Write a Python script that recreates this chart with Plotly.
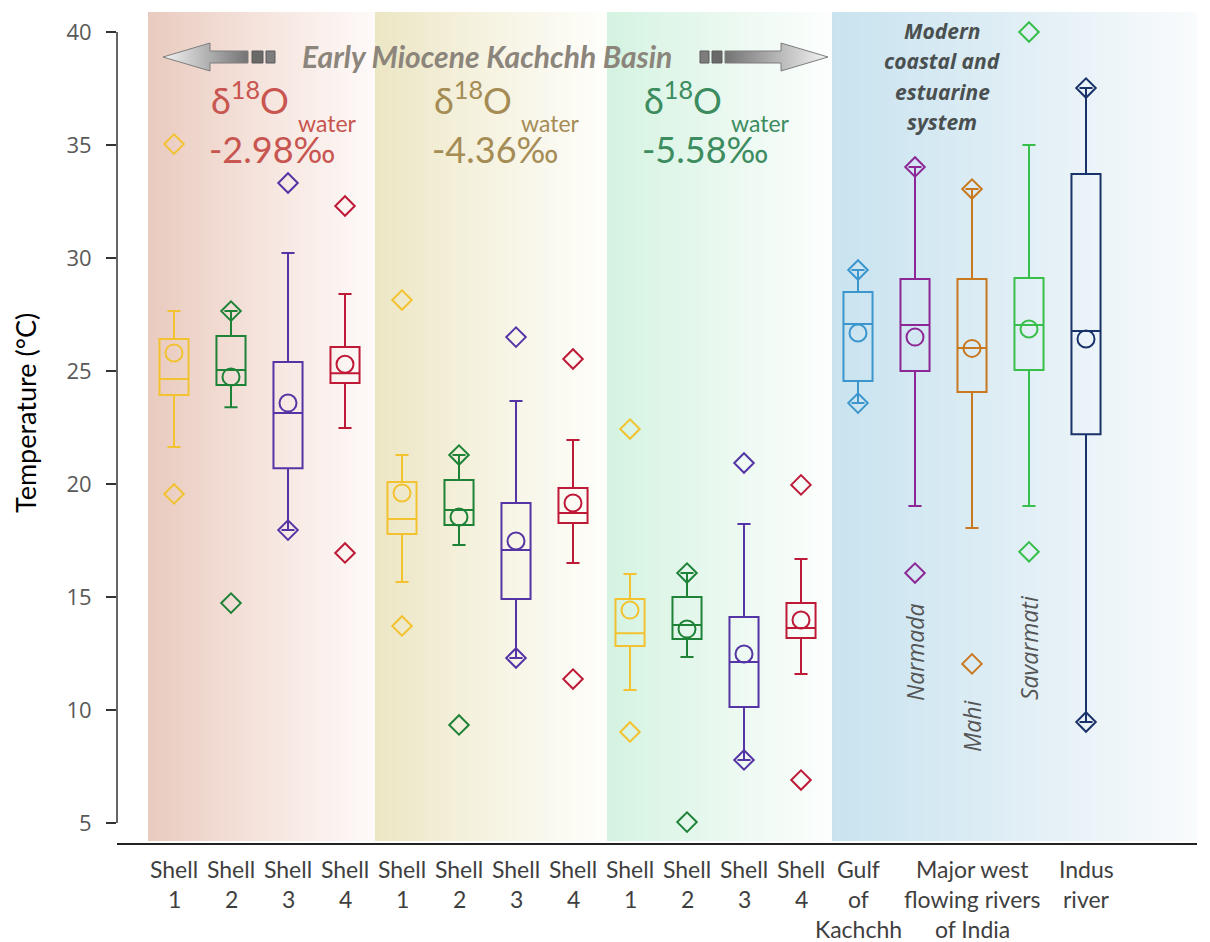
import plotly.graph_objects as go

# ---------------- data ----------------
categories = ["Shell 1", "Shell 2", "Shell 3", "Shell 4",
              "Shell 1", "Shell 2", "Shell 3", "Shell 4",
              "Shell 1", "Shell 2", "Shell 3", "Shell 4",
              "Gulf of Kachchh", "Narmada", "Mahi", "Savarmati", "Indus river"]
tick_labels = ["Shell<br>1", "Shell<br>2", "Shell<br>3", "Shell<br>4"] * 3 + \
              ["Gulf<br>of<br>Kachchh", "", "Major west<br>flowing rivers<br>of India", "", "Indus<br>river"]
river_names = ["", "", "", "", "", "", "", "", "", "", "", "", "", "Narmada", "Mahi", "Savarmati", ""]

q1 = [23.94, 24.38, 20.70, 24.47,
      17.79, 18.19, 14.91, 18.27,
      12.83, 13.14, 10.13, 13.19,
      24.56, 25.00, 24.07, 25.04, 22.20]
median = [24.65, 25.04, 23.14, 24.90,
          18.45, 18.85, 17.08, 18.72,
          13.40, 13.76, 12.12, 13.63,
          27.08, 27.04, 26.02, 27.04, 26.77]
q3 = [26.42, 26.55, 25.40, 26.06,
      20.09, 20.18, 19.16, 19.82,
      14.91, 15.00, 14.11, 14.73,
      28.50, 29.07, 29.07, 29.12, 33.72]
whisker_low = [21.64, 23.40, 17.96, 22.48,
               15.66, 17.30, 12.30, 16.50,
               10.88, 12.35, 7.79, 11.59,
               23.58, 19.03, 18.05, 19.03, 9.47]
whisker_high = [27.65, 27.65, 30.22, 28.41,
                21.28, 21.28, 23.67, 21.95,
                16.02, 16.06, 18.23, 16.68,
                29.47, 34.03, 33.05, 35.00, 37.52]
mean = [25.80, 24.74, 23.58, 25.30,
        19.60, 18.54, 17.48, 19.16,
        14.42, 13.58, 12.48, 13.98,
        26.68, 26.50, 26.00, 26.86, 26.42]
extreme_high = [35.04, 27.65, 33.32, 32.30,
                28.14, 21.28, 26.50, 25.53,
                22.43, 16.06, 20.93, 19.96,
                29.47, 34.03, 33.05, 40.00, 37.52]
extreme_low = [19.56, 14.73, 17.96, 16.95,
               13.72, 9.34, 12.30, 11.37,
               9.03, 5.04, 7.79, 6.90,
               23.58, 16.06, 12.04, 17.00, 9.47]
colors = ["#F2C230", "#1E8237", "#5535A5", "#BE1937"] * 3 + \
         ["#3C96CD", "#8C2896", "#C8781E", "#37BE4B", "#193269"]

d18o_labels = ["-2.98‰", "-4.36‰", "-5.58‰"]
d18o_colors = ["#C8554F", "#A58C55", "#3C8C5F"]

positions = list(range(len(categories)))

# ------------- layout geometry (pixel helpers for decorations) -------------
OFF = 8                      # page body margin
PL, PR, PT, PB = 117, 1197, 12, 843   # plot area in reference pixels


def X(px):
    return (px - 174) / 57.0


def Y(py):
    return 40 - (py - 32) / 22.6


def PX(px):
    return (px - PL) / (PR - PL)


def PY(py):
    return (PB - py) / (PB - PT)


fig = go.Figure()

# background gradient bands (drawn as a 1-row image, one column per pixel)
bands = [
    (148, 375, [(0, (233, 202, 190)), (0.5, (245, 228, 221)), (1, (254, 250, 249))]),
    (375, 607, [(0, (236, 230, 196)), (0.5, (246, 243, 226)), (1, (254, 254, 251))]),
    (607, 832, [(0, (212, 243, 225)), (0.5, (233, 248, 239)), (1, (252, 254, 253))]),
    (832, 1197, [(0, (200, 227, 239)), (0.5, (224, 238, 245)), (1, (249, 251, 252))]),
]


def band_color(px):
    for x0, x1, stops in bands:
        if x0 <= px < x1:
            t = (px - x0) / (x1 - x0)
            for (ta, ca), (tb, cb) in zip(stops[:-1], stops[1:]):
                if ta <= t <= tb:
                    f = (t - ta) / (tb - ta)
                    return [round(ca[k] + (cb[k] - ca[k]) * f) for k in range(3)]
    return [255, 255, 255]


row = [band_color(px + 0.5) for px in range(PL, PR)]
yb, yt = Y(841), Y(PT)
fig.add_trace(go.Image(
    z=[row], x0=X(PL + 0.5), dx=1 / 57.0, y0=(yb + yt) / 2, dy=(yt - yb),
    hoverinfo="skip"))

# arrows
def arrow_poly(pts):
    xs = [X(p[0]) for p in pts] + [X(pts[0][0])]
    ys = [Y(p[1]) for p in pts] + [Y(pts[0][1])]
    return xs, ys


left_arrow = [(163, 57), (210, 43), (210, 51), (248, 51), (248, 63), (210, 63), (210, 71)]
right_arrow = [(828, 57), (781, 43), (781, 51), (725, 51), (725, 63), (781, 63), (781, 71)]
for pts, cs in [(left_arrow, [[0, "rgb(245,245,245)"], [1, "rgb(115,115,115)"]]),
                (right_arrow, [[0, "rgb(115,115,115)"], [1, "rgb(245,245,245)"]])]:
    xs, ys = arrow_poly(pts)
    fig.add_trace(go.Scatter(
        x=xs, y=ys, mode="lines", fill="toself", fillcolor="rgba(0,0,0,0)",
        line=dict(width=1, color="rgb(125,125,125)"),
        fillgradient=dict(type="horizontal", colorscale=cs),
        hoverinfo="skip", showlegend=False))
for (a, b, c) in [(252, 263, "rgb(105,105,105)"), (266, 275, "rgb(125,125,125)"),
                  (700, 709, "rgb(125,125,125)"), (712, 722, "rgb(105,105,105)")]:
    fig.add_shape(type="rect", x0=X(a), x1=X(b), y0=Y(63), y1=Y(51),
                  line=dict(width=1, color="rgb(90,90,90)"), fillcolor=c)

# boxes
for i, p in enumerate(positions):
    fig.add_trace(go.Box(
        x=[p], q1=[q1[i]], median=[median[i]], q3=[q3[i]],
        lowerfence=[whisker_low[i]], upperfence=[whisker_high[i]],
        width=0.51, whiskerwidth=0.45, boxpoints=False,
        fillcolor="rgba(0,0,0,0)", line=dict(color=colors[i], width=2),
        hoverinfo="skip", showlegend=False))

# means
fig.add_trace(go.Scatter(
    x=positions, y=mean, mode="markers",
    marker=dict(symbol="circle-open", size=17, color=colors, line=dict(width=2)),
    showlegend=False, hoverinfo="skip"))

# extreme values (diamonds)
fig.add_trace(go.Scatter(
    x=positions + positions, y=extreme_high + extreme_low, mode="markers",
    marker=dict(symbol="diamond-open", size=15, color=colors + colors, line=dict(width=2)),
    showlegend=False, hoverinfo="skip"))

annotations = []
# x category labels (multi-line, from tick_labels)
for i, lab in enumerate(tick_labels):
    if not lab:
        continue
    for j, line in enumerate(lab.split("<br>")):
        annotations.append(dict(
            x=positions[i], y=PY(869 + 30 * j), xref="x", yref="paper",
            text=line, showarrow=False, xanchor="center", yanchor="middle",
            font=dict(family="Lato", size=23, color="#3F3F3F")))

# rotated river names
river_py = {"Narmada": 652, "Mahi": 726, "Savarmati": 648}
for i, name in enumerate(river_names):
    if name:
        annotations.append(dict(
            x=positions[i], y=Y(river_py[name]), xref="x", yref="y",
            text=name, showarrow=False, textangle=-90,
            font=dict(family="Open Sans", size=23, color="#555555", style="italic")))

# delta 18O labels
for k, (lab, col) in enumerate(zip(d18o_labels, d18o_colors)):
    xpx = [209, 432, 642][k]
    annotations.append(dict(
        x=X(xpx), y=Y(98), xref="x", yref="y", xanchor="left", yanchor="middle",
        text="δ<sup>18</sup>O", showarrow=False,
        font=dict(family="Lato", size=36, color=col)))
    annotations.append(dict(
        x=X(xpx + 87), y=Y(123), xref="x", yref="y", xanchor="left", yanchor="middle",
        text="water", showarrow=False,
        font=dict(family="Lato", size=23, color=col)))
    annotations.append(dict(
        x=X(xpx - 2), y=Y(149), xref="x", yref="y", xanchor="left", yanchor="middle",
        text=lab, showarrow=False,
        font=dict(family="Lato", size=36, color=col)))

annotations.append(dict(
    x=X(487), y=Y(56), xref="x", yref="y", text="Early Miocene Kachchh Basin",
    showarrow=False, font=dict(family="Lato", size=30, color="#8C857B",
                               style="italic", weight="bold")))

for j, line in enumerate(["Modern", "coastal and", "estuarine", "system"]):
    annotations.append(dict(
        x=X(942), y=Y(31 + 30.3 * j), xref="x", yref="y", text=line, showarrow=False,
        font=dict(family="Open Sans", size=21, color="#4A5050", style="italic", weight="bold")))

annotations.append(dict(
    x=PX(25), y=PY(413), xref="paper", yref="paper", xanchor="center", yanchor="middle",
    text="Temperature (°C)", showarrow=False,
    textangle=-90, font=dict(family="Lato", size=27, color="#000000")))

# y axis line (only between 5 and 40)
fig.add_shape(type="line", xref="paper", x0=0, x1=0, yref="y", y0=5, y1=40,
              line=dict(color="#333333", width=1.5))

fig.update_layout(
    width=1210 - OFF, height=942 - OFF,
    margin=dict(l=PL - OFF, r=1210 - PR, t=PT - OFF, b=942 - PB),
    paper_bgcolor="white", plot_bgcolor="white",
    showlegend=False,
    annotations=annotations,
    xaxis=dict(range=[X(PL), X(PR)], showgrid=False, zeroline=False,
               showline=True, linecolor="#222222", linewidth=1.5,
               showticklabels=False, ticks=""),
    yaxis=dict(range=[Y(PB), Y(PT)], tickvals=[5, 10, 15, 20, 25, 30, 35, 40],
               showgrid=False, zeroline=False, showline=False, scaleanchor=False,
               ticks="outside", ticklen=10, tickcolor="#333333", tickwidth=1.5,
               ticklabelstandoff=10,
               tickfont=dict(family="Open Sans", size=22, color="#595959")),
)

fig.write_html("out.html")
